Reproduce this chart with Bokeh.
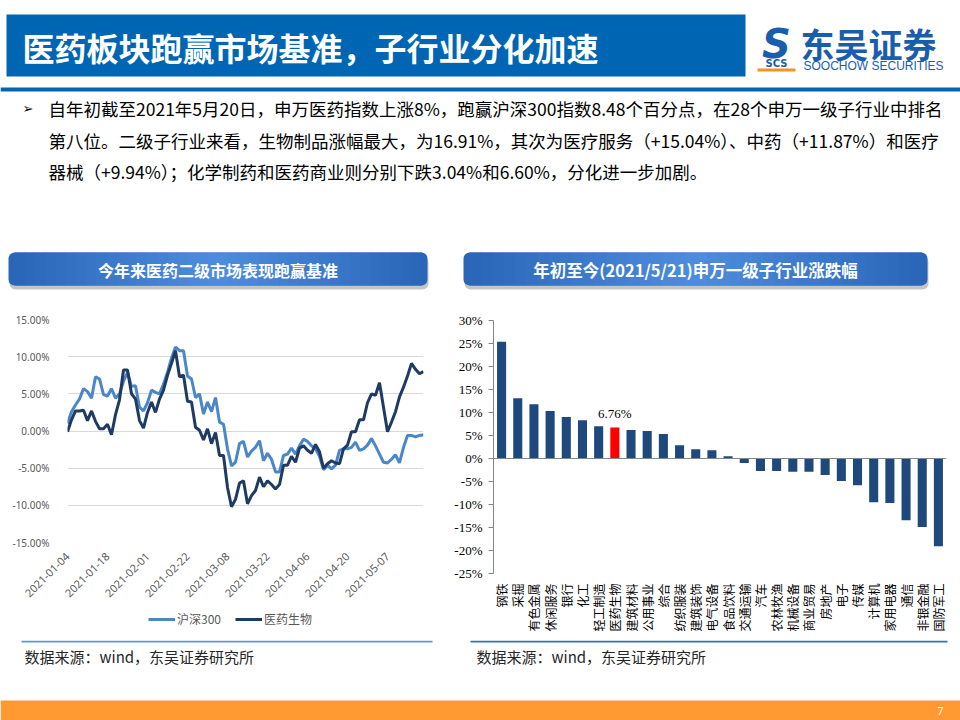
import math
from bokeh.plotting import figure
from bokeh.models import (Range1d, FactorRange, FixedTicker, NumeralTickFormatter,
                          Legend, LegendItem, Span, BoxAnnotation, ColumnDataSource)
from bokeh.layouts import column, row
from bokeh.embed import file_html
from bokeh.resources import INLINE
from bokeh.core.properties import value

# ---------------- data ----------------
page_title = "医药板块跑赢市场基准，子行业分化加速"
bullet_lines = [
    "自年初截至2021年5月20日，申万医药指数上涨8%，跑赢沪深300指数8.48个百分点，在28个申万一级子行业中排名",
    "第八位。二级子行业来看，生物制品涨幅最大，为16.91%，其次为医疗服务（+15.04%）、中药（+11.87%）和医疗",
    "器械（+9.94%）；化学制药和医药商业则分别下跌3.04%和6.60%，分化进一步加剧。",
]
left_title = "今年来医药二级市场表现跑赢基准"
right_title = "年初至今(2021/5/21)申万一级子行业涨跌幅"
source_text = "数据来源：wind，东吴证券研究所"
page_number = "7"

trading_days = {
    1: [4, 5, 6, 7, 8, 11, 12, 13, 14, 15, 18, 19, 20, 21, 22, 25, 26, 27, 28, 29],
    2: [1, 2, 3, 4, 5, 8, 9, 10, 18, 19, 22, 23, 24, 25, 26],
    3: [1, 2, 3, 4, 5, 8, 9, 10, 11, 12, 15, 16, 17, 18, 19, 22, 23, 24, 25, 26, 29, 30, 31],
    4: [1, 2, 6, 7, 8, 9, 12, 13, 14, 15, 16, 19, 20, 21, 22, 23, 26, 27, 28, 29, 30],
    5: [6, 7, 10, 11, 12, 13, 14, 17, 18, 19, 20],
}
dates = [f"2021-{m:02d}-{d:02d}" for m, days in trading_days.items() for d in days]
date_tick_labels = ["2021-01-04", "2021-01-18", "2021-02-01", "2021-02-22", "2021-03-08",
                    "2021-03-22", "2021-04-06", "2021-04-20", "2021-05-07"]

# cumulative return, %
hs300 = [1.0, 2.6, 3.5, 4.3, 5.7, 5.3, 4.4, 7.3, 7.0, 4.9,
         4.7, 5.7, 4.4, 5.0, 6.7, 7.9, 6.0, 6.1, 3.2, 2.7,
         3.8, 5.5, 5.2, 5.0, 6.3, 7.9, 9.8, 11.3, 10.8, 10.8,
         7.4, 7.0, 4.5, 5.0, 2.3, 3.9, 2.6, 4.5, 1.2, 0.9,
         -2.4, -4.7, -4.2, -1.7, -1.4, -3.5, -2.7, -2.2, -1.3, -4.0,
         -3.0, -3.8, -5.5, -5.5, -3.3, -3.1, -2.3, -3.1, -2.0, -1.1,
         -1.4, -2.0, -2.4, -3.4, -5.2, -4.6, -5.1, -4.6, -2.6, -2.4,
         -2.4, -2.2, -1.5, -2.6, -2.4, -1.9, -1.0, -2.0, -3.1, -4.2,
         -4.3, -3.8, -3.2, -4.3, -2.2, -0.6, -0.6, -0.8, -0.6, -0.5]
pharma = [-0.1, 1.5, 2.7, 2.7, 2.8, 1.4, 2.7, 1.3, 0.3, 0.3,
          0.9, -0.5, 2.2, 4.2, 8.2, 8.2, 5.0, 4.3, 1.4, 0.4,
          2.5, 3.9, 2.5, 4.3, 5.5, 7.5, 9.1, 10.8, 7.3, 7.5,
          4.0, 3.9, 0.5, 0.1, -1.2, 0.3, -1.7, -0.2, -3.3, -3.3,
          -7.6, -10.2, -9.2, -7.0, -6.7, -9.8, -8.7, -8.0, -6.2, -7.5,
          -6.7, -7.2, -7.8, -7.2, -4.6, -4.6, -3.4, -4.2, -2.3, -2.0,
          -2.6, -3.0, -1.8, -2.8, -5.0, -4.4, -4.0, -4.3, -4.4, -2.4,
          -1.9, -0.1, -0.1, 1.5, 1.5, 3.8, 5.0, 4.8, 6.5, 3.2,
          -0.1, 1.2, 2.6, 4.6, 5.9, 7.4, 9.1, 8.3, 7.7, 8.0]
series_names = ["沪深300", "医药生物"]

industries = ["钢铁", "采掘", "有色金属", "休闲服务", "银行", "化工", "轻工制造", "医药生物",
              "建筑材料", "公用事业", "综合", "纺织服装", "建筑装饰", "电气设备", "食品饮料",
              "交通运输", "汽车", "农林牧渔", "机械设备", "商业贸易", "房地产", "电子", "传媒",
              "计算机", "家用电器", "通信", "非银金融", "国防军工"]
industry_change = [25.4, 13.1, 11.8, 10.3, 9.0, 8.3, 7.0, 6.76, 6.2, 6.0, 5.3, 2.9, 2.0, 1.8,
                   0.5, -1.0, -2.7, -2.7, -2.9, -2.9, -3.6, -4.9, -5.8, -9.5, -9.7, -13.4,
                   -14.9, -19.1]
highlight = "医药生物"

# ---------------- styles ----------------
CJK_NAME = "Noto Sans CJK SC"
CJK = value(CJK_NAME)
BLUE = "#0066B3"
LIGHT = "#4A86C8"
DARK = "#1F3B63"
BAR = "#1F497D"


def blank(width, height, x0, x1, y0, y1):
    f = figure(width=width, height=height, x_range=Range1d(x0, x1), y_range=Range1d(y1, y0),
               output_backend="svg", toolbar_location=None, x_axis_type=None, y_axis_type=None,
               min_border=0)
    f.grid.visible = False
    f.outline_line_color = None
    return f


def lerp(c1, c2, t):
    a = [int(c1[i:i + 2], 16) for i in (1, 3, 5)]
    b = [int(c2[i:i + 2], 16) for i in (1, 3, 5)]
    return "#" + "".join(f"{round(a[k] + (b[k] - a[k]) * t):02x}" for k in range(3))


def pill(f, x0, x1, y0, y1, text, size):
    f.add_layout(BoxAnnotation(left=x0 + 1, right=x1 + 1, top=y0 + 4, bottom=y1 + 4,
                               fill_color="#7f7f7f", fill_alpha=0.45, line_color=None,
                               border_radius=6, level="underlay"))
    edge, mid = "#2A66B8", "#4E8DDD"
    f.add_layout(BoxAnnotation(left=x0, right=x1, top=y0, bottom=y1, fill_color=edge,
                               fill_alpha=1, line_color=None, border_radius=6, level="underlay"))
    n = 40
    inner0, inner1 = x0 + 6, x1 - 6
    step = (inner1 - inner0) / n
    lefts = [inner0 + k * step for k in range(n)]
    cols = [lerp(edge, mid, 1 - abs(2 * (k + 0.5) / n - 1)) for k in range(n)]
    f.quad(left=lefts, right=[l + step + 0.6 for l in lefts], top=[y0] * n, bottom=[y1] * n,
           fill_color=cols, line_color=None)
    f.text(x=[(x0 + x1) / 2], y=[(y0 + y1) / 2 + 1], text=[text], text_font=CJK,
           text_font_style="bold", text_font_size=size, text_color="white",
           text_align="center", text_baseline="middle")


# ---------------- header (page coords 0..960 x 0..300) ----------------
hdr = blank(960, 300, 0, 960, 0, 300)
hdr.quad(left=[6], right=[745], top=[14], bottom=[76], fill_color=BLUE, line_color=None)
hdr.text(x=[22], y=[46], text=[page_title], text_font=CJK, text_font_style="bold",
         text_font_size="32px", text_color="white", text_baseline="middle")
hdr.quad(left=[0], right=[960], top=[87], bottom=[91], fill_color=BLUE, line_color=None)
# logo
hdr.text(x=[776], y=[43], text=["S"], text_font=value("DejaVu Sans"), text_font_style="bold italic",
         text_font_size="40px", text_color="#1A5DAD", text_align="center", text_baseline="middle")
hdr.text(x=[776], y=[63], text=["SCS"], text_font=value("DejaVu Sans"), text_font_style="bold",
         text_font_size="10px", text_color="#1A5DAD", text_align="center", text_baseline="middle")
hdr.quad(left=[757], right=[795], top=[68], bottom=[71], fill_color="#F7941D", line_color=None)
hdr.text(x=[800], y=[43], text=["东吴证券"], text_font=CJK, text_font_style="bold",
         text_font_size="34px", text_color="#1A5DAD", text_baseline="middle")
hdr.text(x=[803], y=[65], text=["SOOCHOW SECURITIES"], text_font=value("Liberation Sans"),
         text_font_size="12px", text_color="#1A5DAD", text_baseline="middle")
# bullet text
hdr.text(x=[22], y=[108], text=["➢"], text_font=value("DejaVu Sans"), text_font_size="13px",
         text_color="#000000", text_baseline="middle")
for k, line in enumerate(bullet_lines):
    hdr.text(x=[48], y=[108 + 31.5 * k], text=[line], text_font=CJK, text_font_size="17.5px",
             text_color="#000000", text_baseline="middle")
pill(hdr, 8, 427, 252, 285, left_title, "16px")
pill(hdr, 463, 927, 252, 285, right_title, "16.5px")

# ---------------- left chart (page x 0..450, y 300..606) ----------------
lsrc = ColumnDataSource(dict(x=list(range(len(dates))), date=dates,
                             hs300=[v / 100 for v in hs300], pharma=[v / 100 for v in pharma]))
lc = figure(frame_width=356, frame_height=223, x_range=Range1d(0, len(dates) - 1),
            y_range=Range1d(-0.15, 0.15), output_backend="svg", toolbar_location=None,
            min_border_left=67, min_border_right=27, min_border_top=19, min_border_bottom=64)
lc.outline_line_color = None
lc.xgrid.visible = False
lc.ygrid.grid_line_color = "#D9D9D9"
lc.ygrid.grid_line_width = 1
lc.yaxis.ticker = FixedTicker(ticks=[k / 100 for k in range(-15, 16, 5)])
lc.yaxis.formatter = NumeralTickFormatter(format="0.00%")
lc.yaxis.axis_line_color = None
lc.yaxis.major_tick_line_color = None
lc.yaxis.minor_tick_line_color = None
lc.yaxis.major_label_standoff = 12
lc.yaxis.major_label_text_font = "Noto Sans"
lc.yaxis.major_label_text_font_size = "10px"
lc.yaxis.major_label_text_color = "#595959"
tick_idx = [dates.index(d) for d in date_tick_labels]
lc.xaxis.ticker = FixedTicker(ticks=tick_idx)
lc.xaxis.major_label_overrides = {i: dates[i] for i in tick_idx}
lc.xaxis.major_label_orientation = math.pi / 4
lc.xaxis.axis_line_color = None
lc.xaxis.major_tick_line_color = None
lc.xaxis.minor_tick_line_color = None
lc.xaxis.major_label_standoff = 6
lc.xaxis.major_label_text_font = "Noto Sans"
lc.xaxis.major_label_text_font_size = "11px"
lc.xaxis.major_label_text_color = "#595959"
lc.line("x", "hs300", source=lsrc, line_color=LIGHT, line_width=3)
lc.line("x", "pharma", source=lsrc, line_color=DARK, line_width=3)

# legend strip under the left chart (page x 0..450, y 606..640); its frame is aligned
# with the chart frame above, the series lines are kept out of its (empty) view
legfig = figure(width=450, height=34, x_range=Range1d(0, len(dates) - 1), y_range=Range1d(10, 11),
                output_backend="svg", toolbar_location=None, x_axis_type=None,
                y_axis_type=None, min_border=0)
legfig.grid.visible = False
legfig.outline_line_color = None
k1 = legfig.line("x", "hs300", source=lsrc, line_color=LIGHT, line_width=3)
k2 = legfig.line("x", "pharma", source=lsrc, line_color=DARK, line_width=3)
leg = Legend(items=[LegendItem(label=series_names[0], renderers=[k1]),
                    LegendItem(label=series_names[1], renderers=[k2])],
             orientation="horizontal", location=(81, 13), border_line_color=None,
             background_fill_alpha=0, label_text_font=CJK_NAME, label_text_font_size="12px",
             label_text_color="#595959", glyph_width=27, glyph_height=14, spacing=14,
             label_standoff=2, padding=0, margin=0)
legfig.add_layout(leg, "center")

# ---------------- right chart (page x 450..960, y 300..640) ----------------
bar_colors = ["#FF0000" if n == highlight else BAR for n in industries]
rsrc = ColumnDataSource(dict(industry=industries, change=[v / 100 for v in industry_change],
                             color=bar_colors))
rc = figure(frame_width=453, frame_height=253,
            x_range=FactorRange(factors=industries, range_padding=0),
            y_range=Range1d(-0.25, 0.30), output_backend="svg", toolbar_location=None,
            min_border_left=43, min_border_right=14, min_border_top=20, min_border_bottom=67)
rc.outline_line_color = None
rc.grid.visible = False
rc.vbar(x="industry", top="change", width=0.56, source=rsrc, fill_color="color", line_color=None)
rc.add_layout(Span(location=0, dimension="width", line_color="#868686", line_width=1))
rc.yaxis.ticker = FixedTicker(ticks=[k / 100 for k in range(-25, 31, 5)])
rc.yaxis.formatter = NumeralTickFormatter(format="0%")
rc.yaxis.axis_line_color = "#868686"
rc.yaxis.major_tick_line_color = "#868686"
rc.yaxis.major_tick_out = 5
rc.yaxis.major_tick_in = 0
rc.yaxis.minor_tick_line_color = None
rc.yaxis.major_label_standoff = 6
rc.yaxis.major_label_text_font = "Liberation Serif"
rc.yaxis.major_label_text_font_size = "13px"
rc.yaxis.major_label_text_color = "#000000"
rc.xaxis.axis_line_color = None
rc.xaxis.major_tick_line_color = None
rc.xaxis.minor_tick_line_color = None
rc.xaxis.major_label_orientation = math.pi / 2
rc.xaxis.major_label_standoff = 4
rc.xaxis.major_label_text_font = CJK_NAME
rc.xaxis.major_label_text_font_size = "12px"
rc.xaxis.major_label_text_color = "#000000"
hv = industry_change[industries.index(highlight)]
rc.text(x=[highlight], y=[hv / 100], text=[f"{hv:.2f}%"], text_font=value("Liberation Serif"),
        text_font_size="13px", text_color="#000000", text_align="center",
        text_baseline="bottom", y_offset=-6)

# ---------------- footer (page y 640..720) ----------------
ftr = blank(960, 80, 0, 960, 640, 720)
ftr.segment(x0=[21], y0=[641], x1=[432], y1=[641], line_color="#5B9BD5", line_width=2)
ftr.segment(x0=[470], y0=[641], x1=[947], y1=[641], line_color="#2E75B6", line_width=2)
ftr.text(x=[24, 476], y=[656, 656], text=[source_text, source_text], text_font=CJK,
         text_font_size="15px", text_color="#262626", text_baseline="middle")
ftr.quad(left=[0], right=[960], top=[700], bottom=[720], fill_color="#FF9A33", line_color=None)
ftr.text(x=[940], y=[710], text=[page_number], text_font=value("Noto Sans"), text_font_size="11px",
         text_color="white", text_align="center", text_baseline="middle")

layout = column(hdr, row(column(lc, legfig), rc), ftr)
open("out.html", "w").write(file_html(layout, INLINE))
